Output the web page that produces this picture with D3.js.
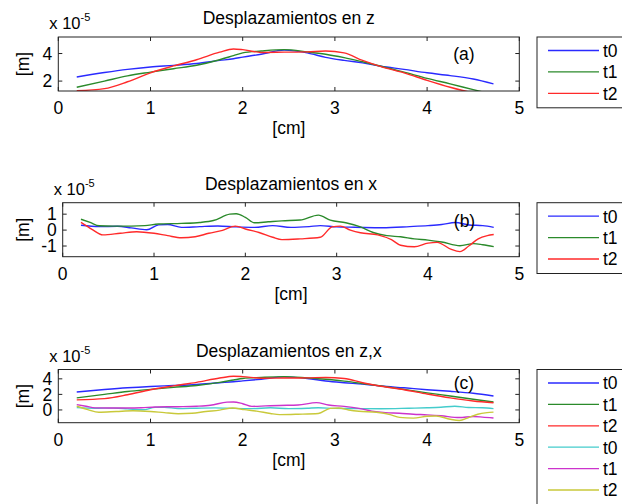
<!DOCTYPE html>
<html>
<head>
<meta charset="utf-8">
<script src="https://cdn.jsdelivr.net/npm/d3@7"></script>
<style>
  html, body { margin: 0; padding: 0; background: #fff; }
  svg { display: block; font-family: 'Liberation Sans', Arial, sans-serif; }
  .axis-box { fill: none; stroke: #222; stroke-width: 1; }
  .tick-line { stroke: #222; stroke-width: 1; }
  .series { fill: none; stroke-width: 1.4; }
</style>
</head>
<body>
<div id="chart"></div>
<script>
// x positions shared by the z displacement curves [cm]
const zPos = [0.2, 0.5, 0.75, 1.0, 1.25, 1.5, 1.75, 1.9, 2.0, 2.2, 2.45, 2.7, 2.9, 3.1, 3.3, 3.5, 3.75, 4.0, 4.25, 4.5, 4.72];
// z displacement (x 10^-5 m)
const zT0 = [2.3, 2.62, 2.85, 3.02, 3.14, 3.28, 3.5, 3.62, 3.74, 3.95, 4.25, 4.05, 3.72, 3.5, 3.32, 3.08, 2.85, 2.6, 2.4, 2.15, 1.8];
const zT1 = [1.55, 2.0, 2.38, 2.65, 2.9, 3.15, 3.55, 3.85, 4.05, 4.18, 4.28, 4.12, 3.95, 3.7, 3.4, 3.08, 2.65, 2.2, 1.8, 1.38, 1.02];
const zT2 = [1.3, 1.45, 1.95, 2.6, 3.1, 3.55, 4.1, 4.33, 4.28, 4.08, 4.1, 4.12, 4.18, 4.05, 3.5, 3.05, 2.6, 2.05, 1.55, 1.15, 0.92];

// x displacement (x 10^-5 m), [position cm, value]
const xT0 = [[0.2, 0.3], [0.4, 0.22], [0.6, 0.24], [0.75, 0.14], [0.92, 0.02], [1.05, 0.33], [1.15, 0.35], [1.3, 0.17], [1.5, 0.22], [1.7, 0.26], [1.9, 0.2], [2.1, 0.17], [2.3, 0.28], [2.5, 0.17], [2.7, 0.22], [2.82, 0.28], [3.0, 0.2], [3.2, 0.18], [3.5, 0.15], [3.8, 0.22], [4.0, 0.28], [4.15, 0.35], [4.3, 0.48], [4.45, 0.32], [4.6, 0.28], [4.72, 0.17]];
const xT1 = [[0.2, 0.68], [0.3, 0.48], [0.4, 0.27], [0.55, 0.25], [0.75, 0.25], [0.9, 0.28], [1.05, 0.38], [1.3, 0.42], [1.5, 0.48], [1.65, 0.6], [1.83, 1.0], [1.9, 1.03], [2.0, 0.8], [2.1, 0.46], [2.25, 0.52], [2.4, 0.58], [2.6, 0.63], [2.8, 0.94], [2.93, 0.63], [3.1, 0.46], [3.26, 0.2], [3.4, -0.15], [3.55, -0.35], [3.7, -0.42], [3.85, -0.55], [4.0, -0.63], [4.15, -0.75], [4.35, -0.98], [4.5, -0.85], [4.6, -0.92], [4.72, -1.04]];
const xT2 = [[0.2, 0.48], [0.32, 0.05], [0.44, -0.3], [0.63, -0.2], [0.81, -0.1], [1.0, -0.2], [1.15, -0.35], [1.3, -0.48], [1.45, -0.42], [1.6, -0.2], [1.75, -0.02], [1.89, 0.25], [2.02, 0.04], [2.15, -0.15], [2.3, -0.45], [2.4, -0.6], [2.6, -0.55], [2.82, -0.45], [2.95, 0.2], [3.04, 0.25], [3.15, 0.0], [3.26, -0.17], [3.45, -0.3], [3.6, -0.6], [3.7, -0.95], [3.85, -1.05], [4.0, -0.82], [4.1, -0.77], [4.25, -1.2], [4.35, -1.35], [4.45, -0.98], [4.55, -0.55], [4.65, -0.35], [4.72, -0.28]];

const xTicks = [0, 1, 2, 3, 4, 5];
const seriesNames = ['t0', 't1', 't2'];

const zSeries = [zT0, zT1, zT2].map((vals) => vals.map((v, i) => [zPos[i], v]));
const xSeries = [xT0, xT1, xT2];

const colors = {
  blue: '#2a2aff', green: '#2b8a2b', red: '#ff2a2a',
  cyan: '#44cccc', magenta: '#cc33cc', yellow: '#c9c93a',
};

const panels = [
  {
    id: 'a', title: 'Desplazamientos en z', tag: '(a)', tagAt: [4.4, 4.0],
    box: { left: 58.3, right: 519.3, top: 37, bottom: 91 },
    yDomain: [1.28, 5.2], yTicks: [2, 4],
    lines: [
      { data: zSeries[0], color: colors.blue, name: seriesNames[0] },
      { data: zSeries[1], color: colors.green, name: seriesNames[1] },
      { data: zSeries[2], color: colors.red, name: seriesNames[2] },
    ],
  },
  {
    id: 'b', title: 'Desplazamientos en x', tag: '(b)', tagAt: [4.4, 0.62],
    box: { left: 62.7, right: 519.3, top: 202.7, bottom: 256.7 },
    yDomain: [-1.67, 1.72], yTicks: [-1, 0, 1],
    lines: [
      { data: xSeries[0], color: colors.blue, name: seriesNames[0] },
      { data: xSeries[1], color: colors.green, name: seriesNames[1] },
      { data: xSeries[2], color: colors.red, name: seriesNames[2] },
    ],
  },
  {
    id: 'c', title: 'Desplazamientos en z,x', tag: '(c)', tagAt: [4.4, 3.55],
    box: { left: 58.3, right: 519.3, top: 369.5, bottom: 422.7 },
    yDomain: [-1.64, 5.2], yTicks: [0, 2, 4],
    lines: [
      { data: zSeries[0], color: colors.blue, name: seriesNames[0] },
      { data: zSeries[1], color: colors.green, name: seriesNames[1] },
      { data: zSeries[2], color: colors.red, name: seriesNames[2] },
      { data: xSeries[0], color: colors.cyan, name: seriesNames[0] },
      { data: xSeries[1], color: colors.magenta, name: seriesNames[1] },
      { data: xSeries[2], color: colors.yellow, name: seriesNames[2] },
    ],
  },
];

const width = 622;
const height = 504;
const fontSize = 17.5;
const tickLen = 4;

const svg = d3.select('#chart').append('svg')
  .attr('width', width)
  .attr('height', height);

const defs = svg.append('defs');

panels.forEach((p) => {
  const { box } = p;
  const x = d3.scaleLinear().domain([0, 5]).range([box.left, box.right]);
  const y = d3.scaleLinear().domain(p.yDomain).range([box.bottom, box.top]);
  const g = svg.append('g').attr('class', `panel panel-${p.id}`);

  defs.append('clipPath').attr('id', `clip-${p.id}`)
    .append('rect')
    .attr('x', box.left).attr('y', box.top)
    .attr('width', box.right - box.left)
    .attr('height', box.bottom - box.top);

  // lines
  const line = d3.line()
    .x((d) => x(d[0]))
    .y((d) => y(d[1]))
    .curve(d3.curveMonotoneX);

  g.append('g')
    .attr('clip-path', `url(#clip-${p.id})`)
    .selectAll('path.series')
    .data(p.lines)
    .join('path')
    .attr('class', 'series')
    .attr('stroke', (d) => d.color)
    .attr('d', (d) => line(d.data));

  // box + inward ticks on all sides
  g.append('rect').attr('class', 'axis-box')
    .attr('x', box.left).attr('y', box.top)
    .attr('width', box.right - box.left)
    .attr('height', box.bottom - box.top);

  const ticks = g.append('g');
  xTicks.forEach((t) => {
    ticks.append('line').attr('class', 'tick-line')
      .attr('x1', x(t)).attr('x2', x(t))
      .attr('y1', box.bottom).attr('y2', box.bottom - tickLen);
    ticks.append('line').attr('class', 'tick-line')
      .attr('x1', x(t)).attr('x2', x(t))
      .attr('y1', box.top).attr('y2', box.top + tickLen);
  });
  p.yTicks.forEach((t) => {
    ticks.append('line').attr('class', 'tick-line')
      .attr('x1', box.left).attr('x2', box.left + tickLen)
      .attr('y1', y(t)).attr('y2', y(t));
    ticks.append('line').attr('class', 'tick-line')
      .attr('x1', box.right).attr('x2', box.right - tickLen)
      .attr('y1', y(t)).attr('y2', y(t));
  });

  // tick labels
  g.append('g').selectAll('text')
    .data(xTicks)
    .join('text')
    .attr('x', (d) => x(d))
    .attr('y', box.bottom + 23)
    .attr('text-anchor', 'middle')
    .attr('font-size', fontSize)
    .text((d) => d);

  g.append('g').selectAll('text')
    .data(p.yTicks)
    .join('text')
    .attr('x', box.left - 6)
    .attr('y', (d) => y(d))
    .attr('dy', '0.36em')
    .attr('text-anchor', 'end')
    .attr('font-size', fontSize)
    .text((d) => d);

  // titles and labels
  g.append('text')
    .attr('x', (box.left + box.right) / 2)
    .attr('y', box.top - 13)
    .attr('text-anchor', 'middle')
    .attr('font-size', fontSize)
    .text(p.title);

  const exp = g.append('text')
    .attr('x', box.left - 9)
    .attr('y', box.top - 8)
    .attr('font-size', fontSize - 1);
  exp.append('tspan').text('x 10');
  exp.append('tspan').attr('dy', -8).attr('font-size', 11).text('-5');

  g.append('text')
    .attr('x', (box.left + box.right) / 2)
    .attr('y', box.bottom + 43)
    .attr('text-anchor', 'middle')
    .attr('font-size', fontSize)
    .text('[cm]');

  g.append('text')
    .attr('transform', `translate(29,${(box.top + box.bottom) / 2}) rotate(-90)`)
    .attr('text-anchor', 'middle')
    .attr('font-size', fontSize)
    .text('[m]');

  g.append('text')
    .attr('x', x(p.tagAt[0]))
    .attr('y', y(p.tagAt[1]))
    .attr('dy', '0.36em')
    .attr('text-anchor', 'middle')
    .attr('font-size', fontSize)
    .text(p.tag);

  // legend
  const legTop = box.top;
  const legStep = 21.4;
  const legend = g.append('g').attr('class', 'legend');
  legend.append('rect')
    .attr('x', 537).attr('y', legTop)
    .attr('width', 120)
    .attr('height', 28 + legStep * (p.lines.length - 1))
    .attr('fill', '#fff')
    .attr('stroke', '#222');
  const items = legend.selectAll('g.item')
    .data(p.lines)
    .join('g')
    .attr('class', 'item')
    .attr('transform', (d, i) => `translate(0,${legTop + 13.5 + i * legStep})`);
  items.append('line')
    .attr('x1', 548).attr('x2', 599)
    .attr('stroke', (d) => d.color)
    .attr('stroke-width', 1.3);
  items.append('text')
    .attr('x', 603)
    .attr('dy', '0.36em')
    .attr('font-size', fontSize)
    .text((d) => d.name);
});
</script>
</body>
</html>
